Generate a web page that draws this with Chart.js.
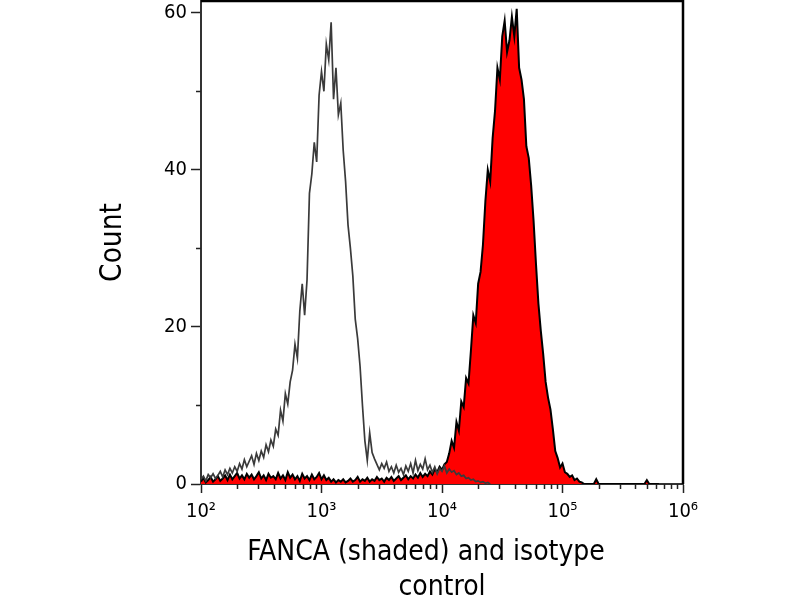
<!DOCTYPE html>
<html>
<head>
<meta charset="utf-8">
<title>FANCA flow cytometry histogram</title>
<script src="https://cdn.jsdelivr.net/npm/chart.js@4.4.1/dist/chart.umd.min.js"></script>
<style>
    html, body { margin: 0; padding: 0; background: #fff; }
    #wrap { width: 800px; height: 600px; }
</style>
</head>
<body>
<div id="wrap"><canvas id="chart" width="800" height="600"></canvas></div>
<script>
// Histogram bins run along log10(intensity); each bin is 0.02 decade wide
const binStart = 2.0;
const binWidth = 0.02;

// Isotype control (open grey outline), counts per bin from 10^2.00
const isotypeCounts = [
    0.6, 1.0, 0.4, 1.2, 0.8, 1.3, 0.7, 1.1, 1.6, 0.9,
    1.8, 1.2, 2.0, 1.4, 2.2, 1.6, 2.6, 1.9, 3.1, 2.2,
    2.9, 3.6, 2.5, 3.9, 3.0, 4.2, 3.4, 5.0, 4.1, 5.6,
    4.8, 7.0, 6.2, 9.4, 8.0, 11.5, 10.2, 13.0, 14.5, 17.8,
    16.0, 22.0, 25.5, 21.5, 26.0, 37.0, 39.5, 43.5, 41.0, 49.5,
    52.5, 50.0, 56.0, 54.0, 58.8, 49.0, 53.0, 47.0, 48.5, 42.5,
    38.5, 33.0, 30.0, 26.5, 21.0, 18.5, 15.0, 10.0, 5.5, 3.0,
    6.5, 4.0, 3.2, 2.5, 1.8, 2.6, 2.0, 2.8, 1.6, 2.2,
    1.4, 2.4, 1.5, 2.0, 1.2, 2.3, 1.6, 2.6, 1.4, 3.0,
    1.7, 2.5, 1.9, 3.2, 1.8, 2.4, 1.5, 2.2, 1.3, 2.0,
    1.6, 2.3, 1.4, 1.9, 1.5, 1.7, 1.2, 1.4, 1.0, 1.1,
    0.7, 0.8, 0.5, 0.6, 0.3, 0.4, 0.2, 0.3, 0.1, 0.2,
    0.0
];

// FANCA stained sample (red shaded), counts per bin from 10^2.00
const fancaCounts = [
    0.3, 0.8, 0.2, 0.5, 0.9, 0.3, 0.6, 1.0, 0.4, 0.7,
    1.1, 0.5, 1.2, 0.6, 1.0, 1.4, 0.7, 1.1, 0.6, 1.3,
    0.8, 1.2, 0.6, 1.0, 1.5, 0.7, 1.1, 0.5, 1.3, 0.8,
    1.0, 0.6, 1.4, 0.7, 1.1, 0.5, 1.5, 0.8, 1.2, 0.6,
    1.0, 0.4, 1.3, 0.7, 1.0, 0.5, 1.2, 0.6, 0.9, 1.4,
    0.6, 1.1, 0.5, 0.8, 0.3, 0.6, 0.2, 0.5, 0.3, 0.6,
    0.2, 0.4, 0.7, 0.3, 0.5, 0.9, 0.3, 0.6, 0.4, 0.8,
    0.3, 0.6, 0.4, 0.9, 0.5, 0.7, 0.3, 0.8, 0.5, 0.9,
    0.4, 0.7, 1.0, 0.5, 0.8, 1.1, 0.6, 1.0, 0.7, 1.2,
    0.8, 1.4, 0.9, 1.3, 1.0, 1.6, 1.2, 1.9, 1.5, 2.2,
    1.8, 2.5, 2.8, 3.9, 5.5, 4.6, 7.9, 6.8, 10.5, 9.8,
    13.5, 12.8, 17.0, 21.5, 20.5, 25.5, 27.0, 30.5, 36.0, 40.0,
    38.5, 44.0, 47.5, 53.0, 51.5, 57.0, 59.0, 55.0, 56.5, 59.5,
    57.0, 60.5, 53.0, 51.5, 49.0, 43.0, 41.5, 38.0, 33.5, 28.0,
    23.0, 19.5, 16.5, 13.0, 11.0, 9.5, 7.0, 4.2, 3.3, 2.1,
    2.6, 1.5, 1.3, 0.9, 1.1, 0.5, 0.7, 0.3, 0.2, 0.0,
    0.0, 0.0, 0.0, 0.0, 0.6, 0.0, 0.0, 0.0, 0.0, 0.0,
    0.0, 0.0, 0.0, 0.0, 0.0, 0.0, 0.0, 0.0, 0.0, 0.0,
    0.0, 0.0, 0.0, 0.0, 0.0, 0.5, 0.0, 0.0, 0.0, 0.0,
    0.0
];

// Axis ticks
const xDecades = [2, 3, 4, 5, 6];
const xTickLabels = ['10²', '10³', '10⁴', '10⁵', '10⁶'];
const yTicks = [0, 10, 20, 30, 40, 50, 60];
const yLabelledTicks = [0, 20, 40, 60];

const FONT = '"DejaVu Sans Condensed", "DejaVu Sans", sans-serif';

const isDecade = v => xDecades.some(d => Math.abs(d - v) < 1e-9);
const toPoints = counts => counts.map((c, i) => ({ x: binStart + i * binWidth, y: c }));

// Short minor ticks plus the top/right frame of the plot box
const frameAndMinorTicks = {
    id: 'frameAndMinorTicks',
    afterDraw(chart) {
        const { ctx, chartArea: a, scales: { x, y } } = chart;
        ctx.save();
        ctx.strokeStyle = '#222';
        ctx.lineWidth = 1.5;
        ctx.beginPath();
        x.ticks.forEach(t => {
            if (isDecade(t.value)) return;
            const px = Math.round(x.getPixelForValue(t.value)) + 0.5;
            ctx.moveTo(px, a.bottom);
            ctx.lineTo(px, a.bottom + 5);
        });
        y.ticks.forEach(t => {
            if (yLabelledTicks.includes(t.value)) return;
            const py = Math.round(y.getPixelForValue(t.value)) + 0.5;
            ctx.moveTo(a.left, py);
            ctx.lineTo(a.left - 5, py);
        });
        ctx.stroke();

        ctx.strokeStyle = '#000';
        ctx.lineWidth = 2.5;
        ctx.beginPath();
        ctx.moveTo(a.left, a.top);
        ctx.lineTo(a.right, a.top);
        ctx.lineTo(a.right, a.bottom);
        ctx.stroke();
        ctx.restore();
    }
};

// Keep the plot box fixed: no extra room for overhanging tick labels
const noLabelPadding = scale => {
    scale.paddingTop = 0;
    scale.paddingBottom = 0;
    scale.paddingLeft = 0;
    scale.paddingRight = 0;
};

const config = {
    type: 'line',
    data: {
        datasets: [
            {
                label: 'Isotype control',
                data: toPoints(isotypeCounts),
                borderColor: '#3a3a3a',
                borderWidth: 1.7,
                fill: false
            },
            {
                label: 'FANCA',
                data: toPoints(fancaCounts),
                borderColor: '#000',
                borderWidth: 2,
                backgroundColor: '#ff0000',
                fill: 'origin'
            }
        ]
    },
    options: {
        responsive: false,
        animation: false,
        layout: { padding: { top: 1, right: 117, left: 0, bottom: 0 } },
        elements: {
            point: { radius: 0 },
            line: { tension: 0 }
        },
        plugins: {
            legend: { display: false },
            tooltip: { enabled: false }
        },
        scales: {
            x: {
                type: 'linear',
                min: 2,
                max: 6,
                afterFit: scale => { scale.height = 116; noLabelPadding(scale); },
                afterBuildTicks: scale => {
                    const ticks = [];
                    xDecades.forEach((d, i) => {
                        ticks.push({ value: d });
                        if (i < xDecades.length - 1) {
                            for (let k = 2; k <= 9; k++) ticks.push({ value: d + Math.log10(k) });
                        }
                    });
                    scale.ticks = ticks;
                },
                border: { color: '#333', width: 2 },
                grid: {
                    drawOnChartArea: false,
                    tickLength: 9,
                    tickWidth: 1.5,
                    tickColor: ctx => (ctx.tick && isDecade(ctx.tick.value)) ? '#222' : 'rgba(0,0,0,0)'
                },
                ticks: {
                    autoSkip: false,
                    maxRotation: 0,
                    padding: 7,
                    color: '#000',
                    font: { family: FONT, size: 20 },
                    callback: v => {
                        const i = xDecades.findIndex(d => Math.abs(d - v) < 1e-9);
                        return i >= 0 ? xTickLabels[i] : '';
                    }
                },
                title: {
                    display: true,
                    text: ['FANCA (shaded) and isotype    ', 'control'],
                    color: '#000',
                    font: { family: FONT, size: 28, lineHeight: 1.25 },
                    padding: { top: 0, bottom: -5.5 }
                }
            },
            y: {
                min: 0,
                max: 61.5,
                afterFit: scale => { scale.width = 201; noLabelPadding(scale); },
                afterBuildTicks: scale => {
                    scale.ticks = yTicks.map(v => ({ value: v }));
                },
                border: { color: '#333', width: 2 },
                grid: {
                    drawOnChartArea: false,
                    tickLength: 10,
                    tickWidth: 1.5,
                    tickColor: ctx => (ctx.tick && yLabelledTicks.includes(ctx.tick.value)) ? '#222' : 'rgba(0,0,0,0)'
                },
                ticks: {
                    autoSkip: false,
                    padding: 4,
                    color: '#000',
                    font: { family: FONT, size: 20 },
                    callback: v => yLabelledTicks.includes(v) ? String(v) : ''
                },
                title: {
                    display: true,
                    text: 'Count',
                    color: '#000',
                    font: { family: FONT, size: 29.5, lineHeight: 1.2 },
                    padding: { top: 96, bottom: 0 }
                }
            }
        }
    },
    plugins: [frameAndMinorTicks]
};

new Chart(document.getElementById('chart').getContext('2d'), config);
</script>
</body>
</html>
